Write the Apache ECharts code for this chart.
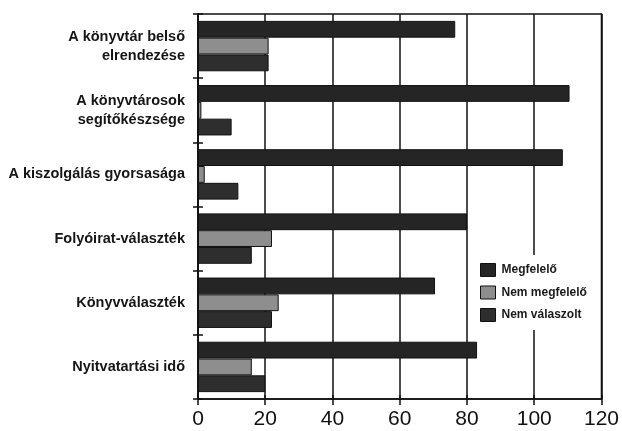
<!DOCTYPE html>
<html>
<head>
<meta charset="utf-8">
<script src="https://cdn.jsdelivr.net/npm/echarts@6/dist/echarts.min.js"></script>
<style>
  html, body { margin: 0; padding: 0; background: #fff; }
  #chart { width: 622px; height: 431px; }
</style>
</head>
<body>
<div id="chart"></div>
<script>
// Survey answers about library services, grouped by aspect
const categories = [
  'A könyvtár belső\nelrendezése',
  'A könyvtárosok\nsegítőkészsége',
  'A kiszolgálás gyorsasága',
  'Folyóirat-választék',
  'Könyvválaszték',
  'Nyitvatartási idő'
];
const seriesNames = ['Megfelelő', 'Nem megfelelő', 'Nem válaszolt'];
const megfelelo = [76.5, 110.5, 108.5, 80, 70.5, 83];
const nemMegfelelo = [21, 1, 2, 22, 24, 16];
const nemValaszolt = [21, 10, 12, 16, 22, 20];
const xTicks = [0, 20, 40, 60, 80, 100, 120];

const colors = ['#252525', '#8e8e8e', '#2e2e2e'];
const font = "'Liberation Sans', Arial, Helvetica, sans-serif";

const chart = echarts.init(document.getElementById('chart'));

const makeSeries = (name, data, color) => ({
  name: name,
  type: 'bar',
  data: data,
  barWidth: 16.8,
  barGap: '0%',
  itemStyle: { color: color, borderColor: '#111', borderWidth: 1 },
  emphasis: { disabled: true }
});

chart.setOption({
  animation: false,
  backgroundColor: '#fff',
  textStyle: { fontFamily: font },
  grid: {
    left: 198, right: 20, top: 14, bottom: 32,
    show: true, borderColor: '#111', borderWidth: 1.5
  },
  legend: {
    orient: 'vertical',
    left: 475, top: 255,
    data: seriesNames,
    backgroundColor: '#fff',
    padding: [8, 6, 8, 5],
    itemWidth: 15, itemHeight: 13, itemGap: 8.5,
    icon: 'rect',
    itemStyle: { borderColor: '#111', borderWidth: 1 },
    textStyle: { fontSize: 12, fontWeight: 'bold', color: '#1a1a1a', fontFamily: font, padding: [0, 0, 0, 1] }
  },
  xAxis: [{
    type: 'value',
    min: xTicks[0], max: xTicks[xTicks.length - 1], interval: 20,
    axisLine: { show: true, lineStyle: { color: '#111', width: 1.5 } },
    axisTick: { show: true, length: 6, lineStyle: { color: '#111', width: 1.5 } },
    axisLabel: { fontSize: 21, color: '#111', margin: 10, fontFamily: font },
    splitLine: { show: true, lineStyle: { color: '#111', width: 1.5 } }
  }, {
    type: 'value', position: 'bottom',
    min: xTicks[0], max: xTicks[xTicks.length - 1], interval: 20,
    axisLine: { show: false },
    axisTick: { show: true, inside: true, length: 4, lineStyle: { color: '#111', width: 1.5 } },
    axisLabel: { show: false },
    splitLine: { show: false }
  }],
  yAxis: [{
    type: 'category',
    data: categories,
    inverse: true,
    axisLine: { show: true, lineStyle: { color: '#111', width: 1.5 } },
    axisTick: { show: true, length: 5, lineStyle: { color: '#111', width: 1.5 } },
    axisLabel: {
      fontSize: 14.5, fontWeight: 'bold', color: '#151515', margin: 13,
      lineHeight: 19, align: 'right', fontFamily: font
    }
  }, {
    type: 'category',
    data: categories,
    inverse: true,
    position: 'left',
    axisLine: { show: false },
    axisTick: { show: true, inside: true, length: 5, lineStyle: { color: '#111', width: 1.5 } },
    axisLabel: { show: false }
  }],
  series: [
    makeSeries(seriesNames[0], megfelelo, colors[0]),
    makeSeries(seriesNames[1], nemMegfelelo, colors[1]),
    makeSeries(seriesNames[2], nemValaszolt, colors[2])
  ]
});
</script>
</body>
</html>
